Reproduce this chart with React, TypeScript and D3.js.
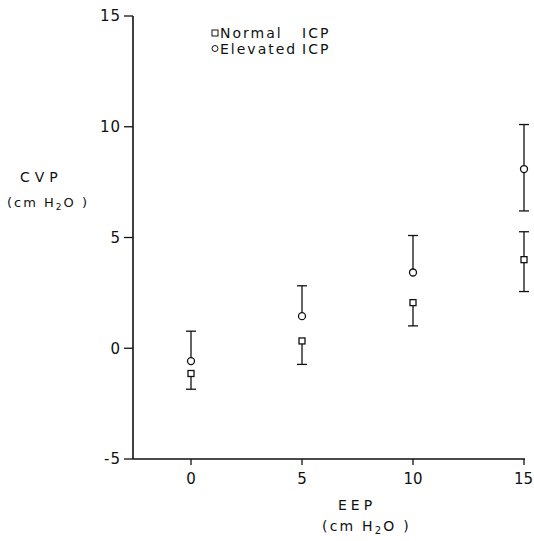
import React from "react";
import * as d3 from "d3";

const eep = [0, 5, 10, 15];
const normalMean = [-1.14, 0.33, 2.06, 4.0];
const normalLow = [-1.85, -0.73, 1.01, 2.56];
const normalHigh = [null, null, null, 5.26];
const elevatedMean = [-0.58, 1.45, 3.42, 8.09];
const elevatedHigh = [0.77, 2.82, 5.09, 10.1];
const elevatedLow = [null, null, null, 6.2];
const yTicks = [-5, 0, 5, 10, 15];
const xTicks = [0, 5, 10, 15];

const W = 534;
const H = 541;
const font = "'DejaVu Sans', sans-serif";

export default function App() {
  const x = d3.scaleLinear().domain([0, 15]).range([191, 524]);
  const y = d3.scaleLinear().domain([-5, 15]).range([459, 16]);
  const x0 = 133;
  const xEnd = x(15) + 1;
  const cap = 5;

  const errBar = (xi: number, from: number, to: number, key: string) => (
    <g key={key} stroke="#111" strokeWidth={1.3}>
      <line x1={xi} x2={xi} y1={y(from)} y2={y(to)} />
      <line x1={xi - cap} x2={xi + cap} y1={y(to)} y2={y(to)} />
    </g>
  );

  return (
    <svg
      width={W}
      height={H}
      style={{ position: "absolute", left: 0, top: 0, background: "#fff" }}
      fontFamily={font}
    >
      {/* axes */}
      <line x1={x0} x2={x0} y1={y(15)} y2={y(-5)} stroke="#111" strokeWidth={1.6} />
      <line x1={x0} x2={xEnd} y1={y(-5)} y2={y(-5)} stroke="#111" strokeWidth={1.6} />
      {yTicks.map((t) => (
        <g key={"yt" + t}>
          <line x1={x0 - 9} x2={x0} y1={y(t)} y2={y(t)} stroke="#111" strokeWidth={1.3} />
          <text
            x={x0 - 12}
            y={y(t)}
            dy="0.36em"
            textAnchor="end"
            fontSize={15}
            letterSpacing={1}
            fill="#111"
          >
            {t}
          </text>
        </g>
      ))}
      {xTicks.map((t) => {
        const last = t === xTicks[xTicks.length - 1];
        return (
          <g key={"xt" + t}>
            <line x1={x(t)} x2={x(t)} y1={y(-5)} y2={y(-5) + 6} stroke="#111" strokeWidth={1.3} />
            <text
              x={last ? W - 1 : x(t)}
              y={y(-5) + 25}
              textAnchor={last ? "end" : "middle"}
              fontSize={15}
              fill="#111"
            >
              {t}
            </text>
          </g>
        );
      })}

      {/* axis titles */}
      <text x={20} y={182} fontSize={14} letterSpacing={5} fill="#111">
        CVP
      </text>
      <text x={7} y={207} fontSize={13} letterSpacing={2} fill="#111">
        (cm H<tspan fontSize={9} dy={3}>2</tspan>
        <tspan dy={-3}>O )</tspan>
      </text>
      <text x={338} y={510} fontSize={14} letterSpacing={4} fill="#111">
        EEP
      </text>
      <text x={322} y={531} fontSize={14} letterSpacing={2.2} fill="#111">
        (cm H<tspan fontSize={10} dy={3}>2</tspan>
        <tspan dy={-3}>O )</tspan>
      </text>

      {/* legend */}
      <rect x={212} y={30} width={6} height={6} fill="#fff" stroke="#111" strokeWidth={1} />
      <text x={220} y={38} fontSize={14} letterSpacing={2} fill="#111">
        Normal
      </text>
      <text x={302} y={38} fontSize={14} letterSpacing={2} fill="#111">
        ICP
      </text>
      <circle cx={215} cy={48.5} r={3} fill="#fff" stroke="#111" strokeWidth={1} />
      <text x={220} y={54} fontSize={14} letterSpacing={2} fill="#111">
        Elevated
      </text>
      <text x={302} y={54} fontSize={14} letterSpacing={2} fill="#111">
        ICP
      </text>

      {/* error bars */}
      {eep.map((e, i) => (
        <g key={"eb" + i}>
          {errBar(x(e), elevatedMean[i], elevatedHigh[i], "eh" + i)}
          {elevatedLow[i] !== null && errBar(x(e), elevatedMean[i], elevatedLow[i] as number, "el" + i)}
          {errBar(x(e), normalMean[i], normalLow[i], "nl" + i)}
          {normalHigh[i] !== null && errBar(x(e), normalMean[i], normalHigh[i] as number, "nh" + i)}
        </g>
      ))}

      {/* markers */}
      {eep.map((e, i) => (
        <circle
          key={"c" + i}
          cx={x(e)}
          cy={y(elevatedMean[i])}
          r={3.5}
          fill="#fff"
          stroke="#111"
          strokeWidth={1.3}
        />
      ))}
      {eep.map((e, i) => (
        <rect
          key={"s" + i}
          x={x(e) - 3}
          y={y(normalMean[i]) - 3}
          width={6}
          height={6}
          fill="#fff"
          stroke="#111"
          strokeWidth={1.3}
        />
      ))}
    </svg>
  );
}
